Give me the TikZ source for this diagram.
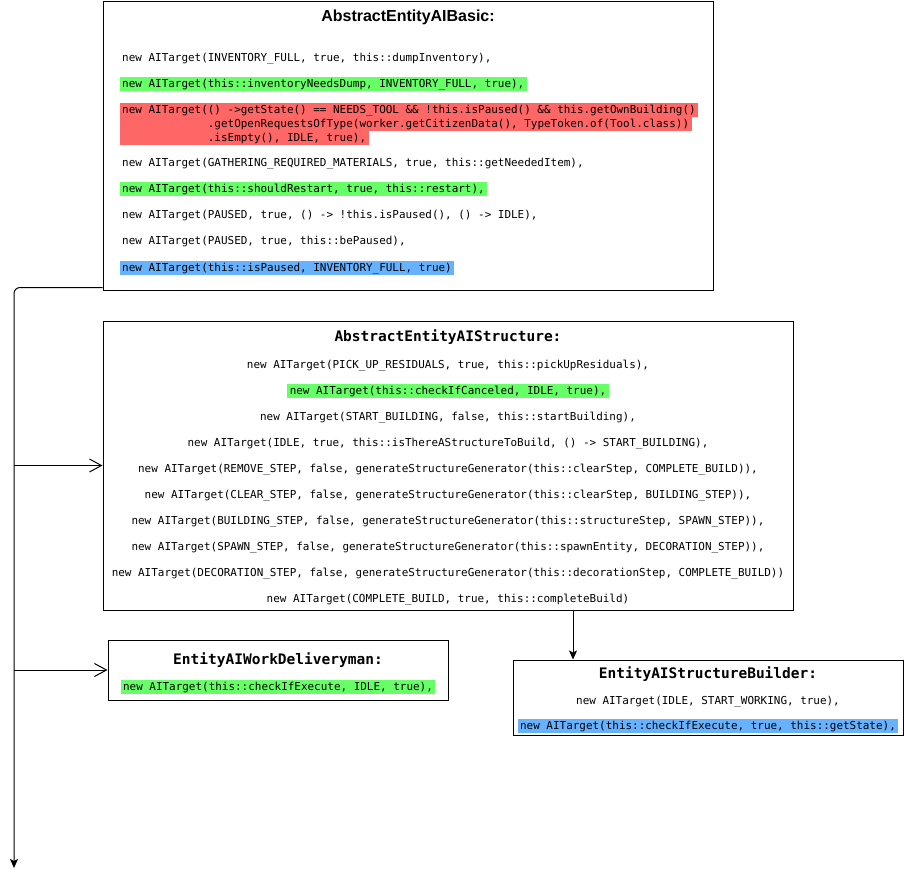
\documentclass[tikz,border=0pt]{standalone}
\usepackage{fontspec}
\usetikzlibrary{arrows.meta}
\newfontfamily\codefont{DejaVu Sans Mono}
\newfontfamily\headfont{Liberation Sans}
\definecolor{hlgreen}{RGB}{102,255,102}
\definecolor{hlred}{RGB}{255,102,102}
\definecolor{hlblue}{RGB}{102,178,255}

\begin{document}
\begin{tikzpicture}[x=1pt,y=-1pt,
  classbox/.style={draw, line width=1pt, rectangle, inner sep=0pt},
  basictitle/.style={font=\headfont\bfseries\fontsize{16}{19}\selectfont, inner sep=0pt},
  monotitle/.style={font=\codefont\bfseries\fontsize{14.5}{17}\selectfont, inner sep=0pt},
  code/.style={font=\codefont\fontsize{10.95}{13}\selectfont, inner xsep=2.5pt, inner ysep=0.75pt,
    text height=9.5pt, text depth=3pt},
  leftcode/.style={code, anchor=west},
  hl/.style={fill=#1},
  flowline/.style={draw, line width=1pt},
  filledtip/.style={-{Stealth[length=9pt,width=8pt,inset=2pt]}},
  opentip/.style={-{Straight Barb[length=12pt,width=13pt]}}
]
\useasboundingbox (0,0) rectangle (904,879);

% class boxes
\node[classbox, minimum width=610pt, minimum height=289pt] (basic) at (408,145.5) {};
\node[classbox, minimum width=690pt, minimum height=289pt] (structure) at (448,465.5) {};
\node[classbox, minimum width=340pt, minimum height=60pt] (delivery) at (278,670) {};
\node[classbox, minimum width=390pt, minimum height=75pt] (builder) at (708,697.5) {};

% titles
\node[basictitle] (basicT) at (408,17.5) {AbstractEntityAIBasic:};
\node[monotitle] (structureT) at (448,337) {AbstractEntityAIStructure:};
\node[monotitle] (deliveryT) at (278,660) {EntityAIWorkDeliveryman:};
\node[monotitle] (builderT) at (708,674) {EntityAIStructureBuilder:};

% AbstractEntityAIBasic targets
\node[leftcode] (b1) at (119.5,58) {new AITarget(INVENTORY\_FULL, true, this::dumpInventory),};
\node[leftcode, hl=hlgreen] (b2) at (119.5,84) {new AITarget(this::inventoryNeedsDump, INVENTORY\_FULL, true),};
\node[leftcode, hl=hlred] (b3a) at (119.5,110) {new AITarget(() ->getState() == NEEDS\_TOOL \&\& !this.isPaused() \&\& this.getOwnBuilding()};
\node[leftcode, hl=hlred] (b3b) at (119.5,124) {\phantom{new AITarget(}.getOpenRequestsOfType(worker.getCitizenData(), TypeToken.of(Tool.class))};
\node[leftcode, hl=hlred] (b3c) at (119.5,138) {\phantom{new AITarget(}.isEmpty(), IDLE, true),};
\node[leftcode] (b4) at (119.5,163) {new AITarget(GATHERING\_REQUIRED\_MATERIALS, true, this::getNeededItem),};
\node[leftcode, hl=hlgreen] (b5) at (119.5,189) {new AITarget(this::shouldRestart, true, this::restart),};
\node[leftcode] (b6) at (119.5,215) {new AITarget(PAUSED, true, () -> !this.isPaused(), () -> IDLE),};
\node[leftcode] (b7) at (119.5,241) {new AITarget(PAUSED, true, this::bePaused),};
\node[leftcode, hl=hlblue] (b8) at (119.5,268) {new AITarget(this::isPaused, INVENTORY\_FULL, true)};

% AbstractEntityAIStructure targets
\node[code] (s1) at (448,365) {new AITarget(PICK\_UP\_RESIDUALS, true, this::pickUpResiduals),};
\node[code, hl=hlgreen] (s2) at (448,391) {new AITarget(this::checkIfCanceled, IDLE, true),};
\node[code] (s3) at (448,417) {new AITarget(START\_BUILDING, false, this::startBuilding),};
\node[code] (s4) at (448,443) {new AITarget(IDLE, true, this::isThereAStructureToBuild, () -> START\_BUILDING),};
\node[code] (s5) at (448,469) {new AITarget(REMOVE\_STEP, false, generateStructureGenerator(this::clearStep, COMPLETE\_BUILD)),};
\node[code] (s6) at (448,495) {new AITarget(CLEAR\_STEP, false, generateStructureGenerator(this::clearStep, BUILDING\_STEP)),};
\node[code] (s7) at (448,521) {new AITarget(BUILDING\_STEP, false, generateStructureGenerator(this::structureStep, SPAWN\_STEP)),};
\node[code] (s8) at (448,547) {new AITarget(SPAWN\_STEP, false, generateStructureGenerator(this::spawnEntity, DECORATION\_STEP)),};
\node[code] (s9) at (448,573) {new AITarget(DECORATION\_STEP, false, generateStructureGenerator(this::decorationStep, COMPLETE\_BUILD))};
\node[code] (s10) at (448,599) {new AITarget(COMPLETE\_BUILD, true, this::completeBuild)};

% EntityAIWorkDeliveryman target
\node[code, hl=hlgreen] (d1) at (278,687) {new AITarget(this::checkIfExecute, IDLE, true),};

% EntityAIStructureBuilder targets
\node[code] (r1) at (708,701) {new AITarget(IDLE, START\_WORKING, true),};
\node[code, hl=hlblue] (r2) at (708,726) {new AITarget(this::checkIfExecute, true, this::getState),};

% inheritance connectors
\coordinate (trunkend) at (14,868);
\coordinate (tap1) at (trunkend |- structure.west);
\coordinate (tap2) at (trunkend |- delivery.west);

\draw[flowline, filledtip, rounded corners=6pt] ([yshift=3pt]basic.south west) -| (trunkend);
\draw[flowline, opentip] (tap1) -- (structure.west);
\draw[flowline, opentip] (tap2) -- (delivery.west);
\draw[flowline, filledtip] ([xshift=125pt]structure.south) -- ([xshift=125pt]structure.south |- builder.north);
\end{tikzpicture}
\end{document}
